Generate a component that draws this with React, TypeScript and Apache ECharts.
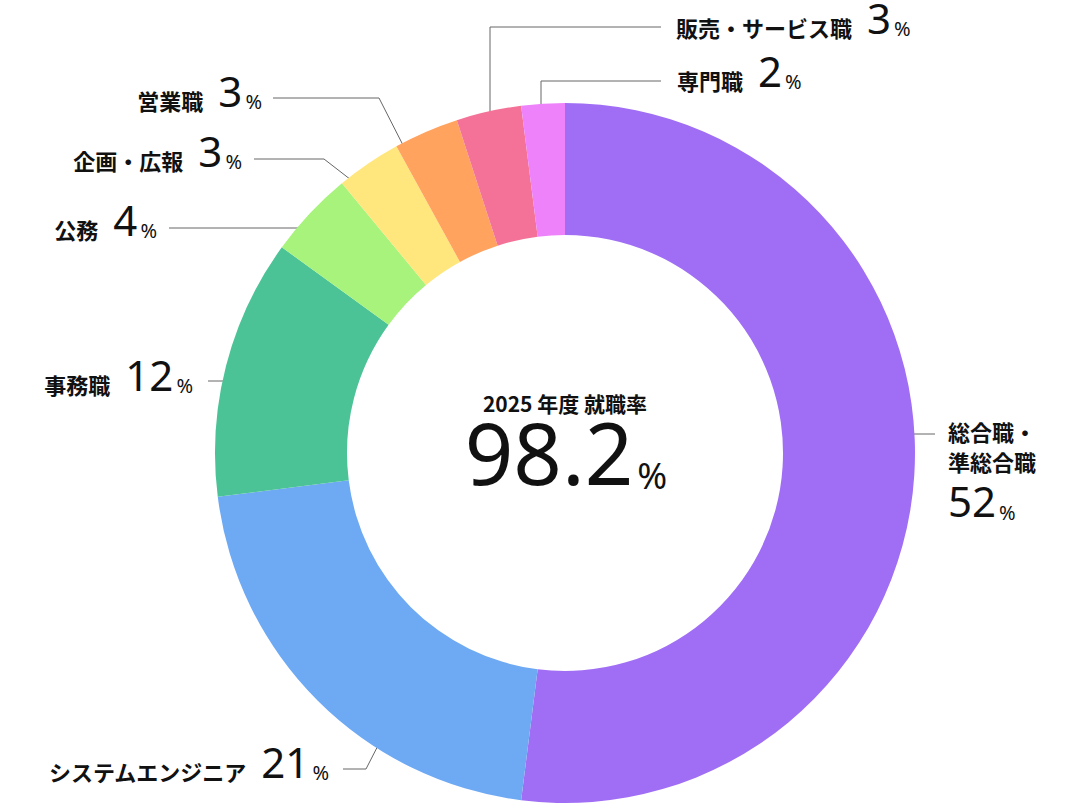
import { useEffect, useRef } from "react";
import * as echarts from "echarts";

// 職種別の就職先割合（%）
const categories = [
  "総合職・\n準総合職",
  "システムエンジニア",
  "事務職",
  "公務",
  "企画・広報",
  "営業職",
  "販売・サービス職",
  "専門職",
];
const shares = [52, 21, 12, 4, 3, 3, 3, 2];
const sliceColors = ["#A06EF4", "#6EA9F4", "#4CC396", "#A7F37B", "#FFE77D", "#FFA35F", "#F47297", "#EE82FB"];

const fiscalYear = 2025;
const employmentRate = 98.2;

// label anchors and leader lines (layout only)
type LabelSpot = {
  x: number;
  y: number;
  align: "left" | "right";
  va: "top" | "middle";
  line: number[][];
};
const labelSpots: LabelSpot[] = [
  { x: 948, y: 412, align: "left", va: "top", line: [[892, 434], [935, 434]] },
  { x: 329, y: 765, align: "right", va: "middle", line: [[387, 728], [366, 769], [343, 769]] },
  { x: 193, y: 378, align: "right", va: "middle", line: [[246, 381], [208, 381]] },
  { x: 157, y: 223, align: "right", va: "middle", line: [[307, 228], [169, 228]] },
  { x: 242, y: 154, align: "right", va: "middle", line: [[355, 183], [324, 159], [254, 159]] },
  { x: 262, y: 94, align: "right", va: "middle", line: [[407, 153], [379, 98], [273, 98]] },
  { x: 676, y: 21, align: "left", va: "middle", line: [[490, 135], [490, 27], [661, 27]] },
  { x: 677, y: 74, align: "left", va: "middle", line: [[541, 127], [541, 81], [661, 81]] },
];

const JP = "'Noto Sans CJK JP', 'Noto Sans', sans-serif";
const NUM = "'Noto Sans', 'Noto Sans CJK JP', sans-serif";

export default function App() {
  const chartRef = useRef<HTMLDivElement>(null);

  useEffect(() => {
    if (!chartRef.current) return;
    const chart = echarts.init(chartRef.current, null, { renderer: "svg" });

    const option: echarts.EChartsOption = {
      animation: false,
      backgroundColor: "#ffffff",
      graphic: [
        {
          type: "text",
          x: 565,
          y: 403,
          silent: true,
          style: {
            text: `${fiscalYear} 年度 就職率`,
            fill: "#111",
            font: `bold 21px ${JP}`,
            align: "center",
            verticalAlign: "middle",
          } as any,
        },
        {
          type: "text",
          x: 566,
          y: 459,
          silent: true,
          style: {
            text: `{big|${employmentRate}}{pct|%}`,
            align: "center",
            verticalAlign: "middle",
            rich: {
              big: { fontSize: 85, lineHeight: 70, fontFamily: NUM, fill: "#111", verticalAlign: "bottom" },
              pct: {
                fontSize: 36,
                lineHeight: 36,
                fontFamily: NUM,
                fill: "#111",
                verticalAlign: "bottom",
                padding: [0, 0, 1, 4],
              },
            },
          } as any,
        },
      ],
      series: [
        {
          type: "pie",
          center: [565, 453],
          radius: [218, 350],
          startAngle: 90,
          clockwise: true,
          avoidLabelOverlap: false,
          silent: true,
          emphasis: { disabled: true },
          itemStyle: { borderWidth: 0 },
          data: categories.map((name, i) => ({
            name,
            value: shares[i],
            itemStyle: { color: sliceColors[i] },
          })),
          label: {
            show: true,
            position: "outside",
            color: "#111",
            formatter: (p: any) => {
              const lines = String(p.name).split("\n");
              if (lines.length > 1) {
                const names = lines.map((s) => `{name2|${s}}`).join("\n");
                return `${names}\n{val2|${p.value}}{pct|%}`;
              }
              return `{name|${lines[0]}}{val|${p.value}}{pct|%}`;
            },
            rich: {
              name: {
                fontSize: 22,
                lineHeight: 22,
                fontFamily: JP,
                fontWeight: "bold",
                color: "#111",
                verticalAlign: "bottom",
                padding: [0, 15, 0, 0],
              },
              name2: {
                fontSize: 22,
                lineHeight: 30,
                fontFamily: JP,
                fontWeight: "bold",
                color: "#111",
                verticalAlign: "bottom",
              },
              val: {
                fontSize: 42,
                lineHeight: 34,
                fontFamily: NUM,
                color: "#111",
                verticalAlign: "bottom",
              },
              val2: {
                fontSize: 42,
                lineHeight: 50,
                fontFamily: NUM,
                color: "#111",
                verticalAlign: "bottom",
              },
              pct: {
                fontSize: 20,
                lineHeight: 20,
                fontFamily: NUM,
                color: "#111",
                verticalAlign: "bottom",
                padding: [0, 0, 0, 3],
              },
            },
          },
          labelLine: {
            show: true,
            length: 10,
            length2: 10,
            lineStyle: { color: "#666", width: 1 },
          },
          labelLayout: (params: any) => {
            const s = labelSpots[params.dataIndex];
            return {
              x: s.x,
              y: s.y,
              align: s.align,
              verticalAlign: s.va,
              labelLinePoints: s.line,
            };
          },
        },
      ],
    };

    chart.setOption(option);

    const handleResize = () => chart.resize();
    window.addEventListener("resize", handleResize);
    return () => {
      window.removeEventListener("resize", handleResize);
      chart.dispose();
    };
  }, []);

  return (
    <div
      ref={chartRef}
      style={{ position: "absolute", left: 0, top: 0, width: 1080, height: 806 }}
    />
  );
}
